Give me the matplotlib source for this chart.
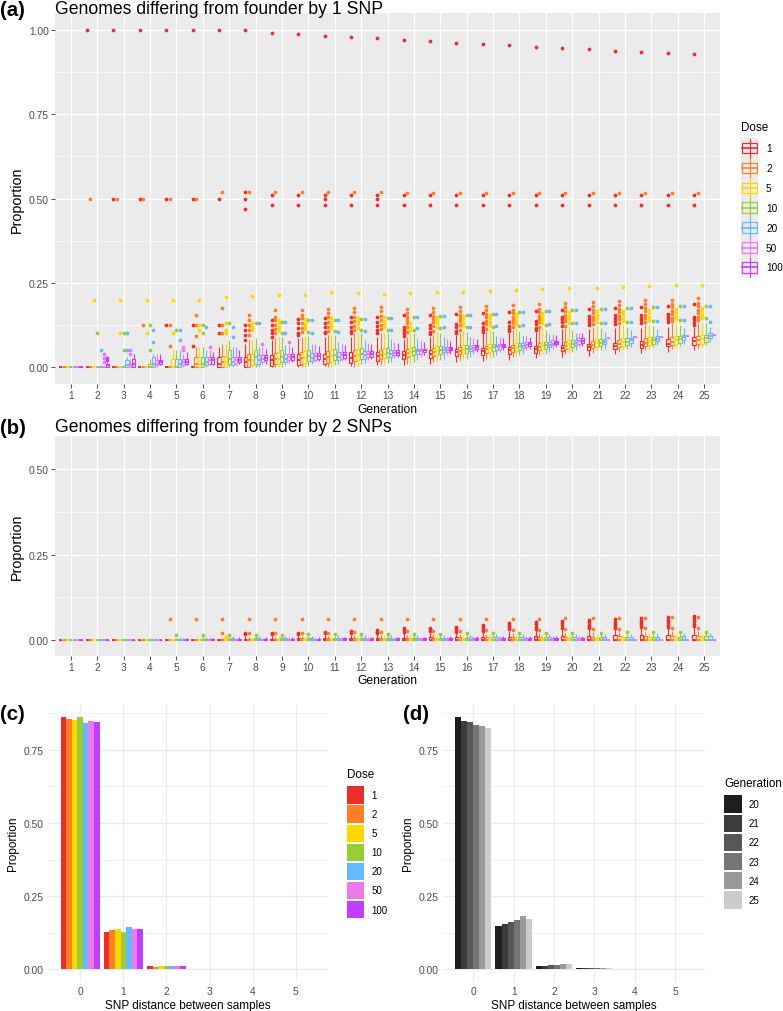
import matplotlib.pyplot as plt
import matplotlib.patches as mpatches

plt.rcParams['font.family'] = ['Liberation Sans', 'DejaVu Sans']

# ---------------- data ----------------
DOSES = ['1', '2', '5', '10', '20', '50', '100']
DOSE_COLORS = ['#EE2C2C', '#FF7F24', '#FFD700', '#9ACD32', '#63B8FF', '#EE7AE9', '#BF3EFF']
GENS = [1, 2, 3, 4, 5, 6, 7, 8, 9, 10, 11, 12, 13, 14, 15, 16, 17, 18, 19, 20, 21, 22, 23, 24, 25]

# panel (a): box statistics, one row per dose, one value per generation (None = no samples)
A_LO = [
    [0, 0, 0, 0, 0, 0, 0, 0, 0, 0, .002, .004, .005, .006, .01, .014, .018, .022, .026, .03, .034, .038, .042, .046, .05],
    [0, 0, 0, 0, 0, 0, 0, 0, 0, 0, 0, 0, .005, .01, .015, .02, .025, .03, .035, .04, .043, .046, .05, .053, .056],
    [0, 0, 0, 0, 0, 0, 0, 0, 0, 0, 0, .002, .008, .013, .018, .023, .028, .033, .038, .043, .047, .051, .055, .058, .061],
    [0, 0, 0, 0, 0, 0, 0, 0, 0, .002, .005, .008, .012, .016, .02, .025, .03, .035, .04, .045, .05, .055, .06, .063, .066],
    [0, 0, 0, 0, 0, 0, 0, 0, .005, .008, .01, .013, .016, .02, .025, .03, .035, .04, .045, .05, .055, .06, .065, .07, .075],
    [0, 0, 0, 0, 0, .005, .005, .01, .012, .015, .018, .022, .026, .03, .035, .04, .045, .05, .055, .06, .085, .088, .09, .093, .095],
    [0, 0, 0, .005, .005, .005, .01, .01, .015, .018, .02, .025, .03, .035, .04, .045, .05, .055, .06, .062, None, None, None, None, None],
]
A_Q1 = [
    [0, 0, 0, 0, 0, 0, 0, 0, .004, .006, .01, .012, .018, .024, .028, .032, .036, .04, .043, .047, .051, .055, .058, .062, .066],
    [0, 0, 0, 0, 0, 0, 0, 0, .008, .01, .013, .018, .024, .029, .034, .038, .042, .046, .05, .055, .058, .061, .064, .066, .068],
    [0, 0, 0, 0, 0, 0, 0, .005, .01, .013, .016, .02, .026, .033, .037, .041, .045, .049, .053, .057, .06, .063, .066, .068, .07],
    [0, 0, 0, 0, 0, 0, .01, .01, .015, .017, .02, .024, .03, .035, .039, .043, .047, .051, .055, .06, .064, .067, .07, .073, .075],
    [0, 0, 0, 0, 0, .005, .005, .01, .015, .018, .021, .025, .03, .04, .044, .048, .052, .056, .06, .065, .069, .073, .077, .081, .085],
    [0, 0, 0, .005, .005, .01, .01, .015, .02, .022, .025, .03, .035, .04, .045, .05, .055, .06, .065, .07, .085, .088, .09, .093, .095],
    [0, 0, 0, .01, .01, .01, .015, .02, .02, .023, .026, .03, .035, .045, .05, .055, .06, .064, .068, .072, None, None, None, None, None],
]
A_MED = [
    [0, 0, 0, 0, 0, 0, .01, .015, .02, .022, .025, .028, .032, .036, .04, .044, .047, .05, .053, .056, .06, .063, .067, .07, .077],
    [0, 0, 0, 0, 0, .01, .015, .02, .024, .027, .03, .033, .037, .041, .045, .049, .053, .056, .06, .064, .067, .07, .073, .076, .08],
    [0, 0, 0, 0, 0, .01, .015, .02, .025, .028, .032, .036, .04, .045, .049, .053, .057, .06, .064, .068, .071, .074, .077, .08, .082],
    [0, 0, 0, 0, 0, .01, .025, .03, .03, .032, .035, .039, .043, .047, .051, .055, .059, .063, .066, .07, .073, .076, .079, .082, .085],
    [0, 0, .005, .01, .01, .015, .015, .02, .025, .028, .031, .035, .04, .047, .051, .055, .059, .062, .066, .072, .076, .08, .084, .088, .092],
    [0, 0, .005, .01, .015, .02, .02, .025, .03, .032, .035, .04, .043, .047, .052, .057, .062, .066, .07, .077, .085, .088, .09, .093, .095],
    [0, .005, .01, .015, .015, .02, .022, .027, .03, .032, .035, .04, .043, .05, .055, .06, .064, .068, .072, .077, None, None, None, None, None],
]
A_Q3 = [
    [0, 0, 0, 0, 0, 0, .03, .03, .035, .038, .04, .044, .046, .048, .052, .055, .058, .06, .062, .065, .07, .073, .077, .082, .088],
    [0, 0, 0, 0, 0, .03, .032, .04, .042, .044, .047, .05, .052, .053, .057, .061, .064, .067, .071, .075, .078, .081, .085, .089, .093],
    [0, 0, 0, 0, .024, .03, .03, .04, .045, .047, .05, .053, .056, .058, .062, .066, .069, .072, .076, .08, .083, .086, .089, .092, .095],
    [0, 0, 0, .01, .024, .03, .05, .05, .05, .052, .054, .056, .058, .06, .063, .066, .069, .072, .076, .08, .083, .086, .089, .092, .095],
    [0, 0, .02, .03, .025, .03, .03, .035, .04, .042, .045, .048, .052, .055, .059, .063, .067, .071, .075, .08, .083, .087, .091, .095, .1],
    [0, 0, .01, .02, .025, .03, .03, .035, .04, .042, .045, .048, .052, .055, .06, .065, .07, .074, .079, .085, .085, .088, .09, .093, .095],
    [0, .01, .025, .02, .025, .03, .03, .035, .04, .042, .045, .048, .052, .055, .06, .065, .07, .074, .078, .085, None, None, None, None, None],
]
A_HI = [
    [0, 0, 0, 0, 0, 0, .06, .07, .08, .085, .088, .09, .09, .083, .09, .095, .1, .1, .105, .113, .113, .115, .117, .12, .12],
    [0, 0, 0, 0, 0, .06, .07, .08, .085, .09, .095, .1, .1, .09, .095, .1, .105, .11, .115, .115, .12, .125, .128, .13, .13],
    [0, 0, 0, 0, .05, .06, .07, .08, .09, .093, .096, .1, .1, .1, .104, .108, .112, .115, .118, .12, .122, .124, .126, .128, .13],
    [0, 0, 0, .025, .05, .06, .08, .085, .09, .093, .096, .1, .1, .1, .102, .104, .106, .108, .11, .11, .115, .12, .123, .126, .13],
    [0, 0, .03, .04, .05, .05, .06, .06, .065, .07, .075, .08, .082, .085, .088, .09, .093, .096, .098, .1, .105, .11, .113, .116, .12],
    [0, 0, .02, .04, .04, .05, .06, .06, .065, .068, .07, .073, .076, .08, .083, .087, .09, .093, .097, .1, .085, .088, .09, .093, .095],
    [0, .015, .04, .04, .045, .045, .05, .055, .06, .063, .066, .07, .072, .075, .078, .082, .086, .09, .094, .1, None, None, None, None, None],
]
A_FL_D1 = [[], [1.0], [1.0, .5], [1.0, .5], [1.0, .5, .125], [1.0, .5, .125, .062], [1.0, .5, .125, .1],
           [1.0, .52, .5, .47, .125, .11, .095, .08], [.992, .51, .48, .14, .125, .11, .1, .09],
           [.988, .51, .48, .143, .13, .115, .1, .095], [.983, .51, .5, .48, .145, .13, .118, .105, .1],
           [.978, .51, .48, .148, .135, .12, .108, .1], [.975, .51, .5, .48, .15, .135, .122, .11, .1],
           [.97, .51, .48, .154, .12, .11, .1, .093], [.966, .51, .48, .156, .125, .115, .105, .097],
           [.962, .51, .48, .158, .128, .118, .108, .1], [.958, .51, .48, .16, .13, .12, .11, .104],
           [.955, .51, .48, .163, .133, .123, .113, .107], [.95, .51, .48, .165, .137, .127, .117, .11],
           [.946, .51, .48, .17, .15, .142, .133, .122], [.942, .51, .48, .172, .152, .143, .135, .125],
           [.938, .51, .48, .175, .154, .145, .137, .127], [.935, .51, .48, .178, .156, .147, .14, .13],
           [.931, .51, .48, .182, .158, .15, .142, .133], [.927, .51, .48, .187, .15, .142, .133, .125]]
A_FL_D2 = [[], [.5], [.5], [.5, .125], [.5, .125, .062], [.5, .155, .125, .093], [.52, .174, .125, .1],
           [.52, .155, .14, .125, .11, .095], [.52, .168, .15, .14, .125, .112, .1],
           [.52, .17, .155, .145, .13, .115, .105], [.52, .172, .16, .148, .135, .12, .108],
           [.52, .175, .162, .15, .138, .122, .11], [.52, .178, .165, .152, .14, .125, .112],
           [.515, .172, .16, .15, .14, .13, .12, .105], [.515, .175, .163, .153, .143, .133, .122, .108],
           [.515, .178, .166, .155, .146, .136, .125, .11], [.515, .18, .168, .158, .148, .138, .128, .113],
           [.515, .183, .17, .16, .15, .14, .13, .118], [.515, .186, .173, .163, .153, .143, .133, .12],
           [.515, .19, .177, .166, .156, .146, .136, .123], [.515, .192, .18, .17, .16, .15, .14, .128],
           [.515, .195, .183, .172, .162, .152, .142, .132], [.515, .198, .186, .175, .165, .155, .145, .135],
           [.515, .2, .188, .177, .167, .157, .147, .138], [.515, .204, .19, .18, .17, .16, .15, .14]]
A_FL_D3 = [[], [.2], [.2, .1], [.2, .1], [.2, .1], [.2, .125, .11], [.207, .13, .11, .1], [.21, .13, .12, .11],
           [.213, .14, .13, .12, .11], [.215, .142, .132, .122, .112], [.222, .145, .135, .125, .115],
           [.22, .147, .137, .127, .117], [.217, .148, .138, .128, .118], [.219, .13, .12, .11],
           [.222, .15, .14, .13, .12], [.224, .152, .142, .132, .122], [.226, .155, .145, .135, .125],
           [.229, .158, .148, .138, .128], [.232, .16, .15, .14, .13], [.234, .162, .152, .142, .132],
           [.236, .165, .155, .145, .135], [.238, .167, .157, .147, .137], [.241, .17, .16, .15, .14],
           [.243, .172, .162, .152, .142], [.245, .175, .165, .155, .145]]
A_FL_D4 = [[], [.1], [.1, .05], [.125, .05], [.11], [.125, .1], [.13], [.13], [.135, .1], [.14, .105],
           [.14, .108], [.142, .11], [.145, .11], [.15, .11], [.152, .115], [.155, .118], [.158, .12],
           [.162, .122], [.165, .124], [.17, .13], [.172, .13], [.175, .135], [.177, .137], [.18, .14], [.18, .145]]
A_FL_D5 = [[], [.05], [.1, .05], [.11, .075], [.11, .08], [.12], [.12, .09], [.13], [.135, .1], [.14, .1],
           [.14, .105], [.142, .108], [.145, .11], [.15, .115], [.152, .118], [.155, .12], [.158, .122],
           [.162, .125], [.165, .127], [.17, .13], [.172, .132], [.175, .135], [.177, .137], [.18, .14], [.18, .135]]
A_FL_D6 = [[], [.04, .027, .015], [.05, .038], [], [.06, .05], [.06], [], [.07], [.075], [], [], [], [], [],
           [], [], [], [], [], [], [], [], [], [], []]
A_FL_D7 = [[], [.028, .02], [], [], [], [], [], [], [], [], [], [], [], [], [], [], [], [], [], [],
           [], [], [], [], []]
A_FLIERS = [A_FL_D1, A_FL_D2, A_FL_D3, A_FL_D4, A_FL_D5, A_FL_D6, A_FL_D7]

# panel (b): box statistics (lower whisker, q1 and median sit at zero)
B_Q3 = [
    [0, 0, 0, 0, 0, 0, 0, .005, .005, .006, .006, .007, .008, .008, .009, .01, .01, .011, .012, .012, .013, .014, .014, .015, .016],
    [0, 0, 0, 0, 0, 0, .003, .005, .005, .006, .006, .007, .007, .008, .008, .009, .009, .01, .01, .011, .011, .012, .012, .012, .013],
    [0, 0, 0, 0, 0, .002, .003, .004, .004, .005, .005, .005, .006, .006, .006, .007, .007, .007, .008, .008, .008, .009, .009, .01, .01],
    [0, 0, 0, 0, .004, .005, .005, .006, .006, .006, .007, .007, .007, .008, .008, .008, .009, .009, .009, .01, .01, .01, .011, .011, .012],
    [0, 0, 0, 0, .005, .005, .006, .006, .006, .007, .007, .007, .008, .008, .008, .009, .009, .009, .01, .01, .01, .011, .011, .012, .012],
    [0, 0, 0, 0, .003, .003, .004, .004, .004, .005, .005, .005, .005, .006, .006, .006, .006, .006, .007, .007, 0, 0, 0, 0, 0],
    [0, 0, 0, .002, .004, .004, .005, .005, .005, .005, .006, .006, .006, .006, .006, .007, .007, .007, .007, .007, None, None, None, None, None],
]
B_HI = [
    [0, 0, 0, 0, 0, 0, 0, .012, .013, .014, .015, .016, .018, .02, .022, .024, .026, .028, .03, .032, .033, .034, .035, .036, .038],
    [0, 0, 0, 0, 0, 0, .006, .01, .011, .012, .013, .014, .015, .016, .017, .018, .019, .02, .021, .022, .023, .024, .025, .026, .027],
    [0, 0, 0, 0, 0, .005, .006, .008, .009, .01, .01, .011, .012, .012, .013, .013, .014, .014, .015, .015, .016, .016, .017, .017, .018],
    [0, 0, 0, 0, .008, .01, .01, .012, .012, .013, .013, .014, .014, .015, .015, .016, .016, .017, .017, .018, .018, .019, .019, .02, .02],
    [0, 0, 0, 0, .01, .01, .012, .012, .013, .013, .014, .014, .015, .015, .016, .016, .017, .017, .018, .018, .019, .019, .02, .02, .021],
    [0, 0, 0, 0, .006, .006, .008, .008, .009, .009, .01, .01, .01, .011, .011, .011, .012, .012, .012, .013, 0, 0, 0, 0, 0],
    [0, 0, 0, .005, .008, .008, .009, .009, .01, .01, .01, .011, .011, .011, .012, .012, .012, .013, .013, .013, None, None, None, None, None],
]
B_FL_D1 = [[], [], [], [], [], [], [], [.02, .017], [.022, .018], [.022, .018], [.024, .02], [.027, .022],
           [.03, .025, .02], [.035, .03, .025], [.037, .032, .027], [.04, .035, .03, .025], [.045, .04, .034, .028],
           [.05, .044, .038, .032], [.053, .047, .04, .034], [.056, .05, .044, .037], [.06, .052, .046, .04, .035],
           [.062, .054, .048, .042, .035], [.065, .057, .05, .044, .038], [.068, .06, .053, .046, .04],
           [.072, .064, .056, .048, .042]]
B_FL_D2 = [[], [], [], [], [.0625], [.0625], [.0625, .02], [.0625, .02], [.0625, .02], [.0625, .022],
           [.0625, .022], [.0625, .024], [.0625, .025], [.0625, .026], [.0625, .027], [.0625, .028],
           [.0625, .029], [.0625, .03], [.0625, .031], [.064, .032], [.065, .033], [.066, .034],
           [.066, .035], [.067, .036], [.068, .037]]
B_FL_D3 = [[], [], [], [], [], [], [.01], [], [], [], [], [], [], [], [], [], [], [], [], [], [], [], [], [], []]
B_FL_D4 = [[], [], [], [], [.014], [.015], [.015], [.016], [.016], [.017], [.017], [.018], [.018], [.019],
           [.019], [.02], [.02], [.021], [.021], [.022], [.022], [.023], [.023], [.024], [.025]]
B_FL_D5 = [[], [], [], [], [], [], [], [], [], [], [], [], [], [], [], [], [], [], [], [], [], [], [], [], []]
B_FL_D6 = [[], [], [], [], [], [], [], [], [], [], [], [], [], [], [], [], [], [], [], [], [], [], [], [], []]
B_FL_D7 = [[], [], [], [], [], [], [], [], [], [], [], [], [], [], [], [], [], [], [], [], [], [], [], [], []]
B_FLIERS = [B_FL_D1, B_FL_D2, B_FL_D3, B_FL_D4, B_FL_D5, B_FL_D6, B_FL_D7]

# panel (c): proportion by SNP distance, per dose
SNP_DIST = [0, 1, 2, 3, 4, 5]
C_VALUES = [
    [.862, .127, .010, .0015, .0003, .0001],
    [.857, .134, .007, .0015, .0003, .0001],
    [.853, .136, .010, .001, .0002, .0001],
    [.862, .127, .010, .001, .0002, .0001],
    [.841, .145, .010, .001, .0003, .0001],
    [.850, .136, .011, .0015, .0003, .0001],
    [.846, .138, .012, .001, .0002, .0001],
]

# panel (d): proportion by SNP distance, per generation
D_GENS = ['20', '21', '22', '23', '24', '25']
D_COLORS = ['#1E1E1E', '#3C3C3C', '#575757', '#757575', '#9A9A9A', '#CCCCCC']
D_VALUES = [
    [.862, .146, .011, .002, .0005, .0001],
    [.850, .153, .012, .002, .0005, .0001],
    [.846, .162, .014, .002, .0005, .0001],
    [.837, .167, .015, .002, .0005, .0001],
    [.833, .183, .016, .0025, .0005, .0001],
    [.826, .172, .016, .002, .0005, .0001],
]

# ---------------- layout (pixel based) ----------------
W, H = 783, 1012
fig = plt.figure(figsize=(W / 100, H / 100), dpi=100)


def rect(l, t, r, b):
    return [l / W, 1 - b / H, (r - l) / W, (b - t) / H]


ax_a = fig.add_axes(rect(55, 14, 720, 385))
ax_b = fig.add_axes(rect(55, 436.7, 720, 656.7))
ax_c = fig.add_axes(rect(48, 705.7, 328, 982.6))
ax_d = fig.add_axes(rect(443.2, 705.7, 705.1, 982.6))

tick_fs = 7.4
grey30 = '#4D4D4D'


def style_gray(ax, ylim, yticks, minors):
    ax.set_facecolor('#EBEBEB')
    for s in ax.spines.values():
        s.set_visible(False)
    ax.set_xlim(0.4, 25.6)
    ax.set_ylim(*ylim)
    for m in minors:
        ax.axhline(m, color='white', lw=0.45, zorder=0)
    for t in yticks:
        ax.axhline(t, color='white', lw=0.9, zorder=0)
    for g in GENS:
        ax.axvline(g, color='white', lw=0.9, zorder=0)
    ax.set_xticks(GENS)
    ax.set_xticklabels([str(g) for g in GENS])
    ax.set_yticks(yticks)
    ax.set_yticklabels(['%.2f' % t for t in yticks])
    ax.tick_params(length=2.75, width=0.6, color='#333333', labelcolor=grey30,
                   labelsize=tick_fs, pad=1.5)
    ax.set_xlabel('Generation', fontsize=8.7, labelpad=2)
    ax.set_ylabel('Proportion', fontsize=10.3, labelpad=4)


def draw_boxes(ax, lo, q1, med, q3, hi, fliers):
    for g in range(len(GENS)):
        present = [d for d in range(len(DOSES)) if med[d][g] is not None]
        n = len(present)
        step = 0.9 / n
        w = step * 0.9
        for k, d in enumerate(present):
            x = GENS[g] + (k - (n - 1) / 2) * step
            c = DOSE_COLORS[d]
            ax.vlines(x, lo[d][g], q1[d][g], colors=c, lw=0.8, zorder=3)
            ax.vlines(x, q3[d][g], hi[d][g], colors=c, lw=0.8, zorder=3)
            ax.add_patch(mpatches.Rectangle((x - w / 2, q1[d][g]), w, q3[d][g] - q1[d][g],
                                            fill=False, edgecolor=c, lw=0.85, zorder=3))
            ax.hlines(med[d][g], x - w / 2, x + w / 2, colors=c, lw=1.3, zorder=3)
            fl = fliers[d][g]
            if fl:
                ax.plot([x] * len(fl), fl, 'o', color=c, markersize=2.7,
                        markeredgewidth=0, zorder=4)


# (a)
style_gray(ax_a, (-0.05, 1.05), [0, .25, .5, .75, 1.0], [.125, .375, .625, .875])
draw_boxes(ax_a, A_LO, A_Q1, A_MED, A_Q3, A_HI, A_FLIERS)

# (b)
zeros = [[0 if v is not None else None for v in row] for row in B_Q3]
style_gray(ax_b, (-0.045, 0.597), [0, .25, .5], [.125, .375])
draw_boxes(ax_b, zeros, zeros, zeros, B_Q3, B_HI, B_FLIERS)


def style_min(ax):
    ax.set_facecolor('white')
    for s in ax.spines.values():
        s.set_visible(False)
    ax.set_xlim(-0.745, 5.745)
    ax.set_ylim(-0.043, 0.905)
    for m in [.125, .375, .625, .875]:
        ax.axhline(m, color='#EBEBEB', lw=0.45, zorder=0)
    for t in [0, .25, .5, .75]:
        ax.axhline(t, color='#EBEBEB', lw=0.9, zorder=0)
    for x in SNP_DIST:
        ax.axvline(x, color='#EBEBEB', lw=0.9, zorder=0)
    ax.set_xticks(SNP_DIST)
    ax.set_yticks([0, .25, .5, .75])
    ax.set_yticklabels(['0.00', '0.25', '0.50', '0.75'])
    ax.tick_params(length=0, labelcolor=grey30, labelsize=tick_fs, pad=3.5)
    ax.set_xlabel('SNP distance between samples', fontsize=8.5, labelpad=2)
    ax.set_ylabel('Proportion', fontsize=8.5, labelpad=3)


def draw_bars(ax, values, colors):
    n = len(values)
    w = 0.9 / n
    for i, vals in enumerate(values):
        xs = [x + (i - (n - 1) / 2) * w for x in SNP_DIST]
        ax.bar(xs, vals, width=w, color=colors[i], linewidth=0, zorder=2)


style_min(ax_c)
draw_bars(ax_c, C_VALUES, DOSE_COLORS)
style_min(ax_d)
draw_bars(ax_d, D_VALUES, D_COLORS)

# ---------------- overlay: panel letters, titles, legends ----------------
ov = fig.add_axes([0, 0, 1, 1])
ov.set_xlim(0, W)
ov.set_ylim(H, 0)
ov.axis('off')
ov.patch.set_alpha(0)

for lab, x, y in [('(a)', 12.5, 10), ('(b)', 12.5, 428), ('(c)', 12.5, 714), ('(d)', 416, 714)]:
    ov.text(x, y, lab, fontsize=14.7, fontweight='bold', ha='center', va='center')
ov.text(55, 9, 'Genomes differing from founder by 1 SNP', fontsize=12.7, va='center', ha='left')
ov.text(55, 428, 'Genomes differing from founder by 2 SNPs', fontsize=12.7, va='center', ha='left')

# legend (a): boxplot keys
ov.text(740.7, 128, 'Dose', fontsize=8.4, va='center', ha='left')
for i, (lab, c) in enumerate(zip(DOSES, DOSE_COLORS)):
    cy = 149 + 19.9 * i
    ov.add_patch(mpatches.Rectangle((740.7, cy - 9.95), 17.6, 19.9, facecolor='#EBEBEB', edgecolor='none'))
    ov.plot([749.5, 749.5], [cy - 9.5, cy + 9.5], color=c, lw=0.8)
    ov.add_patch(mpatches.Rectangle((742.3, cy - 5.3), 14.4, 10.6, facecolor='#EBEBEB', edgecolor=c, lw=0.85))
    ov.plot([742.3, 756.7], [cy, cy], color=c, lw=1.2)
    ov.text(766, cy, lab, fontsize=7.2, va='center', ha='left')

# legend (c)
ov.text(347, 775, 'Dose', fontsize=8.4, va='center', ha='left')
for i, (lab, c) in enumerate(zip(DOSES, DOSE_COLORS)):
    cy = 796 + 19.1 * i
    ov.add_patch(mpatches.Rectangle((347, cy - 8.7), 17.4, 17.4, facecolor=c, edgecolor='none'))
    ov.text(371.7, cy, lab, fontsize=7.0, va='center', ha='left')

# legend (d)
ov.text(724, 784.3, 'Generation', fontsize=8.4, va='center', ha='left')
for i, (lab, c) in enumerate(zip(D_GENS, D_COLORS)):
    cy = 805 + 19.2 * i
    ov.add_patch(mpatches.Rectangle((724.3, cy - 8.7), 17.4, 17.4, facecolor=c, edgecolor='none'))
    ov.text(748.3, cy, lab, fontsize=7.0, va='center', ha='left')

fig.savefig('out.png', dpi=100)
